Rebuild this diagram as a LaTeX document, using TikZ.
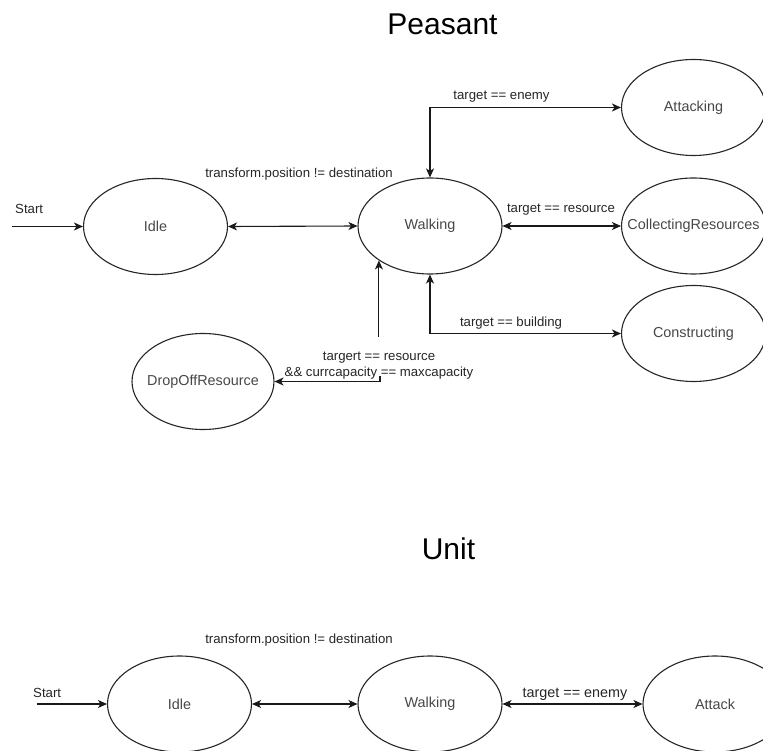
\documentclass[tikz,border=0pt]{standalone}
\usepackage{fontspec}
\setmainfont{Liberation Sans}
\usetikzlibrary{shapes.geometric,arrows.meta}

% state text is boxed at zero width so long names do not widen the ellipse
\newcommand\statename[1]{\makebox[0pt]{#1}}

\begin{document}
\begin{tikzpicture}[x=1pt,y=-1pt,
  state/.style={draw=black!85, line width=1.1pt, ellipse, minimum width=144pt,
    minimum height=96pt, inner sep=0pt, text=black!72,
    font=\fontsize{14.4}{17}\selectfont},
  tip/.tip={Stealth[length=9pt,width=8pt,inset=2.5pt]},
  link/.style={draw=black!90, line width=1.1pt, -tip},
  backlink/.style={draw=black!90, line width=1.1pt, tip-},
  both/.style={draw=black!90, line width=1.1pt, tip-tip},
  cond/.style={font=\fontsize{13.2}{15.5}\selectfont, text=black!85, inner sep=0pt},
  heading/.style={font=\fontsize{30}{36}\selectfont, inner sep=0pt}]

\useasboundingbox (0,0) rectangle (763,751);
\clip (0,0) rectangle (763,751);

% ---------------- Peasant ----------------
\node[heading, anchor=base] (titleA) at (442.5,35) {Peasant};

\node[state] (idleA)   at (155.5,226.5) {\statename{Idle}};
\node[state] (walkA)   at (430,226)     {\statename{Walking}};
\node[state] (atkA)    at (693.5,107.5) {\statename{Attacking}};
\node[state] (collect) at (693.5,226)   {\statename{CollectingResources}};
\node[state] (build)   at (693.5,333.5) {\statename{Constructing}};
\node[state, minimum width=142pt] (drop) at (203,381.5) {\statename{DropOffResource}};

\coordinate (inA) at (12,226.5);
\draw[link] (inA) -- (idleA.west);
\node[cond, anchor=base west] (startA) at (15,214) {Start};

\draw[both] (idleA.east) -- (walkA.west);
\node[cond, anchor=base] (tpA) at (299,178) {transform.position != destination};

\draw[both] (walkA.north) |- (atkA.west);
\node[cond, anchor=base] (enemyA) at (501.5,100) {target == enemy};

\draw[both] (walkA.east) -- (collect.west);
\node[cond, anchor=base] (resA) at (561,213) {target == resource};

\draw[both] (walkA.south) |- (build.west);
\node[cond, anchor=base] (bldA) at (511,326.5) {target == building};

% drop-off connector, interrupted by its label
\coordinate (cutTop) at (380,337);
\coordinate (cutBot) at (380,376);
\draw[backlink] (walkA.214.6) -- (walkA.214.6 |- cutTop);
\draw[link] (cutBot) |- (drop.east);
\node[cond, align=center] (dropcond) at (379,365.5)
  {targert == resource\\\&\& currcapacity == maxcapacity};

% ---------------- Unit ----------------
\node[heading, anchor=base] (titleB) at (448.5,559) {Unit};

\node[state] (idleB) at (179.5,704) {\statename{Idle}};
\node[state] (walkB) at (430,704)   {\statename{Walking}};
\node[state] (atkB)  at (715,704)   {\statename{Attack}};

\coordinate (inB) at (37,704);
\draw[link] (inB) -- (idleB.west);
\node[cond, anchor=base west] (startB) at (33,697) {Start};

\draw[both] (idleB.east) -- (walkB.west);
\node[cond, anchor=base] (tpB) at (299,643) {transform.position != destination};

\draw[both] (walkB.east) -- (atkB.west);
\node[cond, font=\fontsize{14.4}{17}\selectfont, anchor=base] (enemyB) at (575,697) {target == enemy};

\end{tikzpicture}
\end{document}
